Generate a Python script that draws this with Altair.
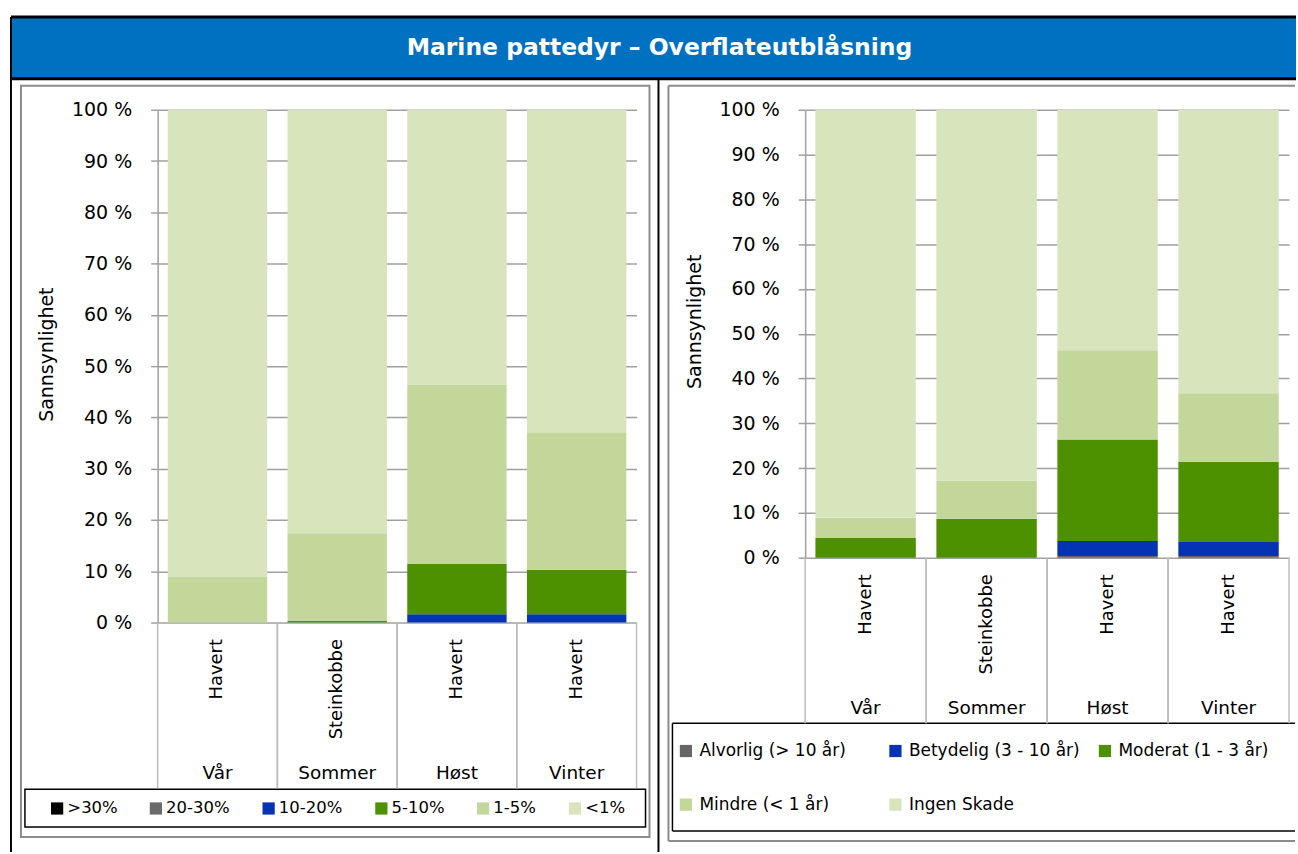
import altair as alt
import pandas as pd

# ---------------- data ----------------
TITTEL = "Marine pattedyr – Overflateutblåsning"
AKSETITTEL = "Sannsynlighet"

sesonger = ["Vår", "Sommer", "Høst", "Vinter"]
arter = ["Havert", "Steinkobbe", "Havert", "Havert"]
y_ticks = [0, 10, 20, 30, 40, 50, 60, 70, 80, 90, 100]

# left panel (probability classes, %)
klasser_v = [">30%", "20-30%", "10-20%", "5-10%", "1-5%", "<1%"]
farger_v = ["#000000", "#6b6b6b", "#0433b3", "#4d9000", "#c4d79b", "#d8e4bc"]
v_over30 = [0, 0, 0, 0]
v_20_30 = [0, 0, 0, 0]
v_10_20 = [0, 0, 1.6, 1.6]
v_5_10 = [0, 0.3, 9.8, 8.7]
v_1_5 = [8.9, 17.1, 35.0, 26.8]
v_under1 = [91.1, 82.6, 53.6, 62.9]

# right panel (damage classes, %)
klasser_h = ["Alvorlig (> 10 år)", "Betydelig (3 - 10 år)", "Moderat (1 - 3 år)",
             "Mindre (< 1 år)", "Ingen Skade"]
farger_h = ["#666666", "#0433b3", "#4d9000", "#c4d79b", "#d8e4bc"]
alvorlig = [0, 0, 0.4, 0.4]
betydelig = [0, 0, 3.3, 3.1]
moderat = [4.4, 8.7, 22.7, 17.9]
mindre = [4.5, 8.5, 19.9, 15.3]
ingen = [91.1, 82.8, 53.7, 63.3]

# ---------------- helpers ----------------
FONT = "DejaVu Sans"
GRID = "#a0a0a0"
DIV = "#bcbcbc"
kategorier = [f"{s}|{a}" for s, a in zip(sesonger, arter)]
kat_df = pd.DataFrame({"kat": kategorier, "sesong": sesonger})
one = pd.DataFrame({"a": [0]})


def lang(klasser, serier):
    rows = []
    for i, (k, s) in enumerate(zip(klasser, serier)):
        for kat, v in zip(kategorier, s):
            rows.append({"kat": kat, "klasse": k, "rekke": i, "verdi": v})
    return pd.DataFrame(rows)


def rect(x, x2, y, y2, **mk):
    return alt.Chart(one).mark_rect(**mk).encode(
        x=alt.value(x), x2=alt.value(x2), y=alt.value(y), y2=alt.value(y2))


def rule(x, x2, y, y2, **mk):
    return alt.Chart(one).mark_rule(**mk).encode(
        x=alt.value(x), x2=alt.value(x2), y=alt.value(y), y2=alt.value(y2))


def panel(df, klasser, farger, W, H, title_y, legend_kw, deco):
    x_enc = alt.X(
        "kat:N", sort=kategorier,
        scale=alt.Scale(paddingInner=0, paddingOuter=0),
        axis=alt.Axis(title=None, labelExpr="split(datum.value, '|')[1]",
                      labelAngle=270, labelAlign="right", labelBaseline="middle",
                      labelPadding=16, ticks=False, domain=False,
                      labelFont=FONT, labelFontSize=18, labelColor="#000"))
    y_enc = alt.Y(
        "verdi:Q", stack="zero", scale=alt.Scale(domain=[0, 100], nice=False),
        axis=alt.Axis(values=y_ticks, labelExpr="datum.value + ' %'",
                      title=AKSETITTEL, titleX=-105, titleY=title_y, titleAngle=270,
                      titleAlign="center", titleBaseline="alphabetic",
                      titleFont=FONT, titleFontSize=19, titleFontWeight="normal",
                      titleColor="#000", labelFont=FONT, labelFontSize=19,
                      labelColor="#000", labelPadding=19, tickSize=7,
                      tickColor=GRID, tickWidth=1.5, domainColor=GRID,
                      domainWidth=1.5, gridColor=GRID, gridWidth=1.5))
    bars = alt.Chart(df).mark_bar(width=alt.RelativeBandSize(band=0.83)).encode(
        x=x_enc, y=y_enc,
        color=alt.Color("klasse:N", scale=alt.Scale(domain=klasser, range=farger),
                        legend=alt.Legend(**legend_kw)),
        order=alt.Order("rekke:Q", sort="ascending"))
    div0 = alt.Chart(kat_df).mark_rule(color=DIV, strokeWidth=1.5).encode(
        x=alt.X("kat:N", sort=kategorier, bandPosition=0),
        y=alt.value(H), y2=alt.value(H + 166))
    div1 = alt.Chart(kat_df).mark_rule(color=DIV, strokeWidth=1.5).encode(
        x=alt.X("kat:N", sort=kategorier, bandPosition=1),
        y=alt.value(H), y2=alt.value(H + 166))
    ses = alt.Chart(kat_df).mark_text(font=FONT, fontSize=18.5, color="#000",
                                      baseline="middle").encode(
        x=alt.X("kat:N", sort=kategorier), y=alt.value(H + 151), text="sesong:N")
    return alt.layer(*deco, bars, div0, div1, ses).properties(width=W, height=H)


leg_common = dict(orient="none", direction="horizontal", title=None,
                  symbolType="square", symbolSize=150, symbolStrokeWidth=0,
                  labelFont=FONT, labelColor="#000", padding=0, labelLimit=400)

# left panel decorations (origin = left plot top-left)
deco_v = [
    rect(-147, 1141, -93, -31, fill="#0070c0"),
    rule(-147, 1141, -93, -93, color="#000", strokeWidth=3),
    rule(-147, 1141, -31, -31, color="#000", strokeWidth=3),
    rule(-147, -147, -93, 744, color="#000", strokeWidth=2),
    rule(502, 502, -31, 744, color="#000", strokeWidth=2),
    rect(-137, 493, -24, 729, fillOpacity=0, stroke="#8c8c8c", strokeWidth=2),
    rect(-133, 489, 681, 719, fillOpacity=0, stroke="#000", strokeWidth=1.5),
    alt.Chart(one).mark_text(font=FONT, fontSize=23.5, fontWeight="bold",
                             color="#ffffff", align="center",
                             baseline="middle").encode(
        x=alt.value(503), y=alt.value(-62), text=alt.value(TITTEL)),
]

# right panel decorations (origin = right plot top-left)
deco_h = [
    rule(-137, 491, -24, -24, color="#8c8c8c", strokeWidth=2),
    rule(-137, 491, 733, 733, color="#8c8c8c", strokeWidth=2),
    rule(-137, -137, -24, 733, color="#8c8c8c", strokeWidth=2),
    rule(-133, 491, 615, 615, color="#000", strokeWidth=1.5),
    rule(-133, 491, 723, 723, color="#000", strokeWidth=1.5),
    rule(-133, -133, 615, 723, color="#000", strokeWidth=1.5),
]

venstre = panel(
    lang(klasser_v, [v_over30, v_20_30, v_10_20, v_5_10, v_1_5, v_under1]),
    klasser_v, farger_v, 480, 514, 245,
    dict(leg_common, legendX=-109, legendY=692, columns=6, labelFontSize=16.5,
         labelOffset=2, columnPadding=30),
    deco_v)

hoyre = panel(
    lang(klasser_h, [alvorlig, betydelig, moderat, mindre, ingen]),
    klasser_h, farger_h, 485, 449, 212,
    dict(leg_common, legendX=-128, legendY=634, columns=3, gridAlign="all",
         labelFontSize=17, labelOffset=5, columnPadding=16, rowPadding=36),
    deco_h)

chart = alt.hconcat(venstre, hoyre, spacing=169, bounds="flush").resolve_scale(
    color="independent", x="independent", y="independent"
).resolve_legend(color="independent").properties(
    padding={"left": 9, "top": 14, "right": 0, "bottom": 0}
).configure_view(stroke="transparent")

chart.save("out.html", embed_options={"renderer": "svg", "actions": False})
